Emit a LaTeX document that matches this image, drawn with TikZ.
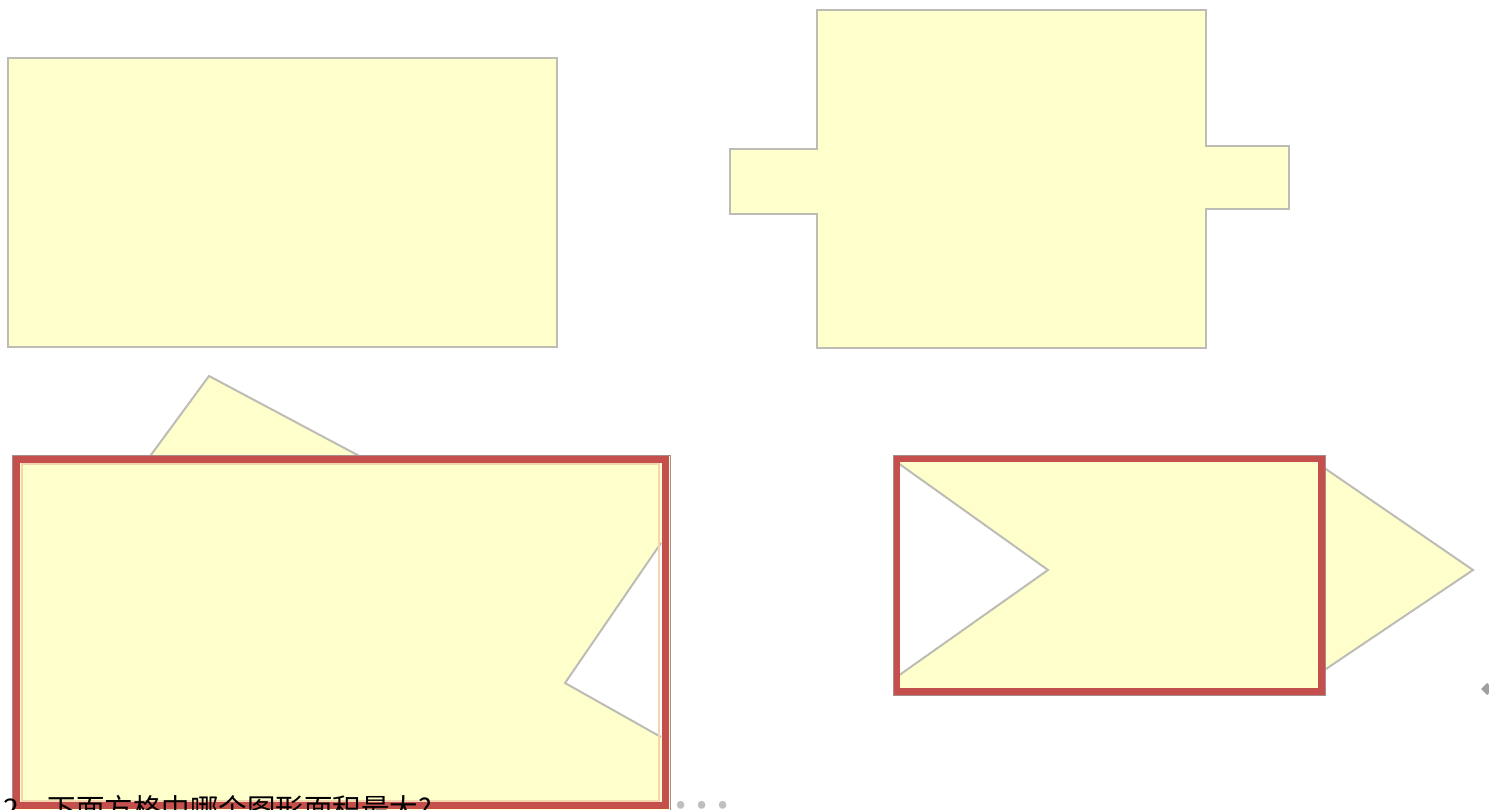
\documentclass[tikz,border=0pt]{standalone}
\usepackage{fontspec}
\newfontfamily\cjk{Noto Sans CJK SC}
\definecolor{fillY}{HTML}{FFFFCC}
\definecolor{edgeG}{HTML}{BDBDB5}
\definecolor{frameR}{HTML}{C44F4C}
\definecolor{frameIn}{HTML}{F2D6AE}
\definecolor{frameOut}{HTML}{A88C8C}
\begin{document}
\begin{tikzpicture}[x=1pt,y=-1pt,
  shapeY/.style={fill=fillY,draw=edgeG,line width=2pt,line join=miter},
  edgeline/.style={draw=edgeG,line width=2pt},
  redframe/.style={draw=frameR,line width=7pt},
  innerline/.style={draw=frameIn,line width=2pt},
  outerline/.style={draw=frameOut,line width=1pt},
  qtext/.style={anchor=base west,inner sep=0pt,font=\cjk\fontsize{28.5}{34}\selectfont}]
\useasboundingbox (0,0) rectangle (1489,809);
\fill[white] (0,0) rectangle (1489,809);

% shape 1
\draw[shapeY] (8,58) rectangle (557,347);

% shape 2
\draw[shapeY] (817,10) -- (1206,10) -- (1206,146) -- (1289,146) -- (1289,209)
  -- (1206,209) -- (1206,348) -- (817,348) -- (817,214) -- (730,214)
  -- (730,149) -- (817,149) -- cycle;

% shape 3
\fill[fillY] (148,460) -- (209,376) -- (365,460) -- cycle;
\draw[edgeline] (148,459) -- (209,376) -- (365,459);
\fill[fillY] (12,455) rectangle (670,812);
\fill[white] (662,543) -- (565,683) -- (662,737) -- cycle;
\draw[edgeline] (661,543) -- (565,683) -- (661,737);
\draw[innerline] (21.5,464) rectangle (658.5,800.5);
\draw[redframe] (16,459) rectangle (665,805.5);
\draw[outerline] (12,455) rectangle (670,810);

% shape 4
\fill[fillY] (1320,465) -- (1473,570) -- (1320,673) -- cycle;
\draw[edgeline] (1320,465) -- (1473,570) -- (1320,673);
\fill[fillY] (893,455) rectangle (1325,695);
\fill[white] (898,463) -- (1048,570) -- (898,676) -- cycle;
\draw[edgeline] (898,463) -- (1048,570) -- (898,676);
\draw[redframe] (896.5,458.5) rectangle (1321.5,691.5);
\draw[outerline] (893,455) rectangle (1325,695);

% small grey mark at right edge
\fill[gray!75] (1481,689) -- (1487,683) -- (1493,689) -- (1487,695) -- cycle;

% question text
\node[qtext] (q) at (3,819) {2．下面方格中哪个图形面积最大?};
\node[anchor=center,inner sep=0pt,text=black!25,font=\cjk\fontsize{56}{56}\selectfont] (dots) at (701,805) {…};
\end{tikzpicture}
\end{document}
